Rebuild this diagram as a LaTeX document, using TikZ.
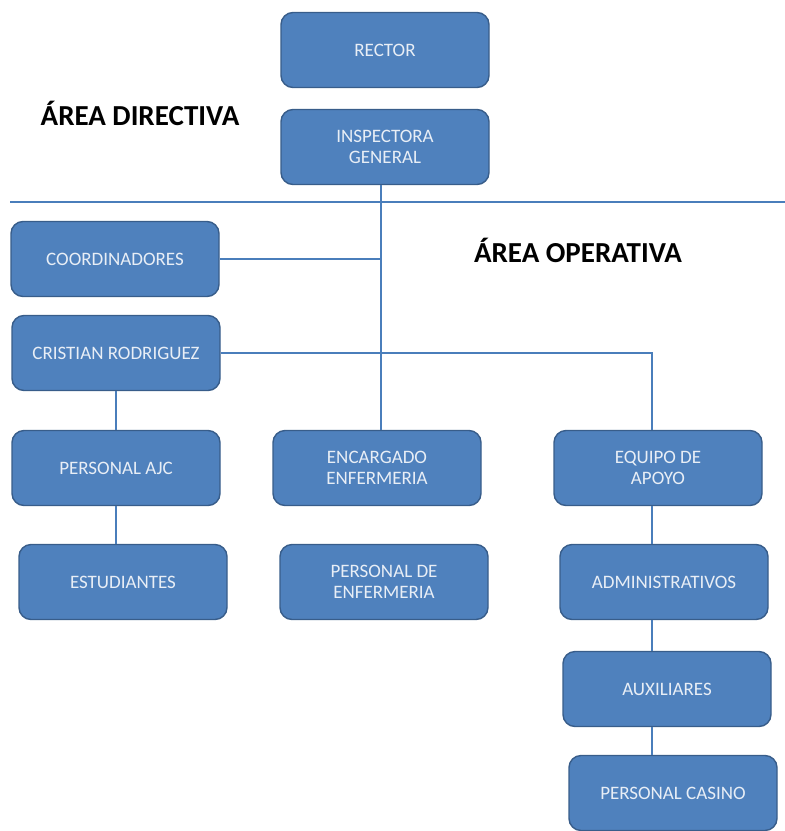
\documentclass[tikz,border=0pt]{standalone}
\usepackage{fontspec}
\setmainfont{Carlito}
\usepackage{tikz}

\definecolor{boxblue}{HTML}{4F81BD}
\definecolor{boxedge}{HTML}{385D8A}
\definecolor{boxtext}{HTML}{E8EEF6}
\definecolor{linkblue}{HTML}{4A7EBB}

\begin{document}
\begin{tikzpicture}
        [
            x = 1pt, y = -1pt,
            cargo/.style = {draw = boxedge, line width = 1.4pt, fill = boxblue,
                rounded corners = 12pt, minimum width = 208pt, minimum height = 75pt,
                text = boxtext, align = center, font = \fontsize{19}{21}\selectfont},
            area/.style = {font = \fontsize{29}{32}\selectfont\bfseries},
            link/.style = {draw = linkblue, line width = 2.6pt}
        ]

        \useasboundingbox (0,0) rectangle (785,831);

        \draw[link, line width = 2pt] (10,202) -- (785,202);

        \node[area] (directiva) at (140,113) {ÁREA DIRECTIVA};
        \node[area] (operativa) at (578,250) {ÁREA OPERATIVA};

        \node[cargo] (rector) at (385,50) {RECTOR};
        \node[cargo] (inspectora) at (385,147) {INSPECTORA\\GENERAL};
        \node[cargo] (coordinadores) at (115,259) {COORDINADORES};
        \node[cargo] (cristian) at (116,353) {CRISTIAN RODRIGUEZ};
        \node[cargo] (ajc) at (116,468) {PERSONAL AJC};
        \node[cargo] (encargado) at (377,468) {ENCARGADO\\ENFERMERIA};
        \node[cargo] (equipo) at (658,468) {EQUIPO DE\\APOYO};
        \node[cargo] (estudiantes) at (123,582) {ESTUDIANTES};
        \node[cargo] (enfermeria) at (384,582) {PERSONAL DE\\ENFERMERIA};
        \node[cargo] (administrativos) at (664,582) {ADMINISTRATIVOS};
        \node[cargo] (auxiliares) at (667,689) {AUXILIARES};
        \node[cargo] (casino) at (673,793) {PERSONAL CASINO};

        \coordinate (spine) at ([xshift=-4pt]inspectora.south);
        \coordinate (drop) at ([xshift=-6pt]equipo.north);

        \draw[link] (spine) -- (spine |- encargado.north);
        \draw[link] (coordinadores.east) -- (coordinadores.east -| spine);
        \draw[link] (cristian.east) -| (drop);
        \draw[link] (cristian.south) -- (ajc.north);
        \draw[link] (ajc.south) -- (ajc.south |- estudiantes.north);
        \draw[link] (drop |- equipo.south) -- (drop |- administrativos.north);
        \draw[link] (drop |- administrativos.south) -- (drop |- auxiliares.north);
        \draw[link] (drop |- auxiliares.south) -- (drop |- casino.north);
\end{tikzpicture}
\end{document}
